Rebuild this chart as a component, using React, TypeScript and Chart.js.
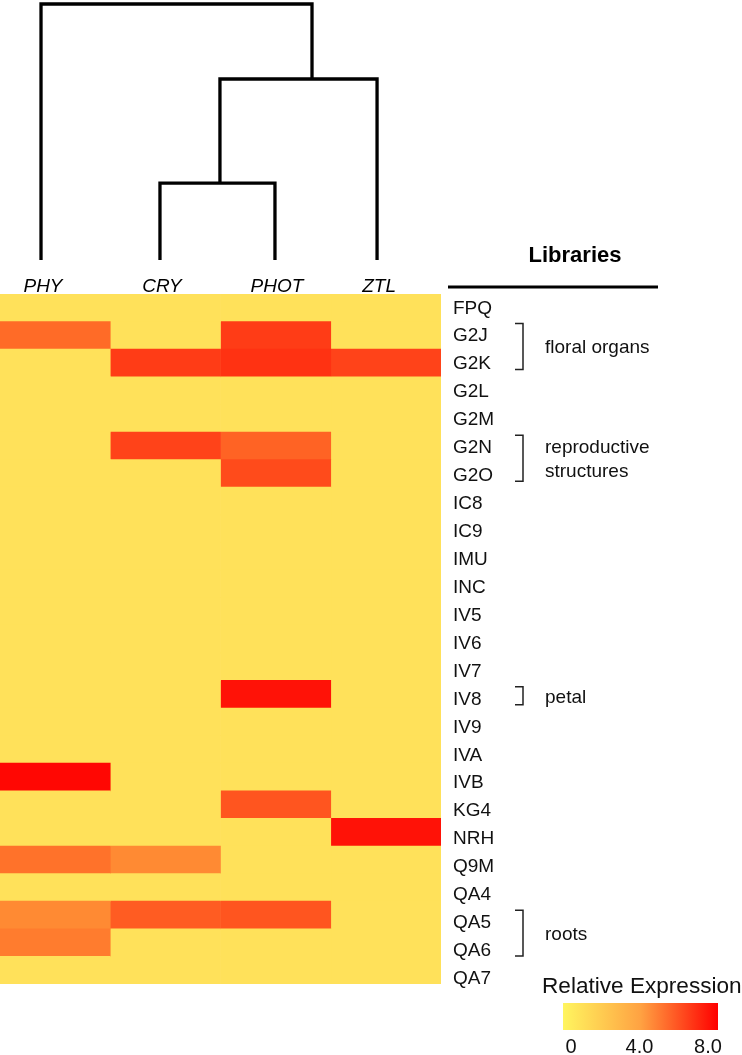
import { useEffect, useRef } from 'react';
import { Chart, registerables } from 'chart.js';

Chart.register(...registerables);

// ---------- data ----------
const rowLabels = ['FPQ', 'G2J', 'G2K', 'G2L', 'G2M', 'G2N', 'G2O', 'IC8', 'IC9', 'IMU', 'INC', 'IV5', 'IV6', 'IV7', 'IV8', 'IV9', 'IVA', 'IVB', 'KG4', 'NRH', 'Q9M', 'QA4', 'QA5', 'QA6', 'QA7'];
const columnLabels = ['PHY', 'CRY', 'PHOT', 'ZTL'];

const phyValues = [0, 5.0, 0, 0, 0, 0, 0, 0, 0, 0, 0, 0, 0, 0, 0, 0, 0, 7.8, 0, 0, 4.8, 0, 4.1, 4.5, 0];
const cryValues = [0, 0, 6.3, 0, 0, 6.1, 0, 0, 0, 0, 0, 0, 0, 0, 0, 0, 0, 0, 0, 0, 4.1, 0, 5.4, 0, 0];
const photValues = [0, 6.3, 6.6, 0, 0, 5.2, 5.9, 0, 0, 0, 0, 0, 0, 0, 7.5, 0, 0, 0, 5.6, 0, 0, 0, 5.6, 0, 0];
const ztlValues = [0, 0, 6.1, 0, 0, 0, 0, 0, 0, 0, 0, 0, 0, 0, 0, 0, 0, 0, 0, 7.5, 0, 0, 0, 0, 0];

// dendrogram (positions in column units, heights as relative distance)
const leafPositions = [0.372, 1.451, 2.494, 3.42];
const mergeLeft = ['CRY', 'm0', 'PHY'];
const mergeRight = ['PHOT', 'ZTL', 'm1'];
const mergeHeights = [0.3, 0.707, 1.0];
const mergePositions = [1.995, 2.83, 1.6];

// groups
const groupNames = [['floral organs'], ['reproductive', 'structures'], ['petal'], ['roots']];
const groupFirstRow = ['G2J', 'G2N', 'IV8', 'QA5'];
const groupLastRow = ['G2K', 'G2O', 'IV8', 'QA6'];

// colour legend
const legendTitle = 'Relative Expression';
const legendTicks = [0, 4, 8];
const legendTickLabels = ['0', '4.0', '8.0'];
const legendMax = 8;

const cellStopValues = [0, 4, 8];
const cellStopColors = [[255, 225, 90], [255, 142, 52], [255, 0, 0]];
const legendStopColors = ['rgb(255,245,95)', 'rgb(255,162,66)', 'rgb(255,0,0)'];

const FONT = '"Liberation Sans", Arial, Helvetica, sans-serif';

function colorFor(v: number): string {
  let i = 0;
  while (i < cellStopValues.length - 2 && v > cellStopValues[i + 1]) i++;
  const a = cellStopValues[i];
  const b = cellStopValues[i + 1];
  const t = Math.max(0, Math.min(1, (v - a) / (b - a)));
  const c0 = cellStopColors[i];
  const c1 = cellStopColors[i + 1];
  const c = c0.map((x, k) => Math.round(x + (c1[k] - x) * t));
  return `rgb(${c[0]},${c[1]},${c[2]})`;
}

const allValues = [phyValues, cryValues, photValues, ztlValues];

const decorPlugin = {
  id: 'decor',
  afterDraw(chart: any) {
    const ctx: CanvasRenderingContext2D = chart.ctx;
    const xs = chart.scales.x;
    const ys = chart.scales.y;
    const area = chart.chartArea;
    ctx.save();

    // ----- dendrogram -----
    const leafY = area.top - 34;
    const rootY = 4;
    const hToY = (h: number) => leafY - h * (leafY - rootY);
    const nodes: Record<string, { x: number; y: number }> = {};
    columnLabels.forEach((name, i) => {
      nodes[name] = { x: xs.getPixelForValue(leafPositions[i]), y: leafY };
    });
    ctx.strokeStyle = '#000';
    ctx.lineWidth = 3.3;
    ctx.lineJoin = 'miter';
    ctx.lineCap = 'butt';
    mergeLeft.forEach((l, i) => {
      const L = nodes[l];
      const R = nodes[mergeRight[i]];
      const y = hToY(mergeHeights[i]);
      ctx.beginPath();
      ctx.moveTo(L.x, L.y);
      ctx.lineTo(L.x, y);
      ctx.lineTo(R.x, y);
      ctx.lineTo(R.x, R.y);
      ctx.stroke();
      nodes['m' + i] = { x: xs.getPixelForValue(mergePositions[i]), y };
    });

    // ----- column labels -----
    ctx.fillStyle = '#000';
    ctx.font = `italic 19px ${FONT}`;
    ctx.textAlign = 'center';
    ctx.textBaseline = 'alphabetic';
    columnLabels.forEach((name, i) => {
      ctx.fillText(name, xs.getPixelForValue(leafPositions[i]) + 2, area.top - 2);
    });

    // ----- Libraries header -----
    ctx.font = `bold 22px ${FONT}`;
    ctx.fillText('Libraries', 575, area.top - 32);
    ctx.lineWidth = 3;
    ctx.beginPath();
    ctx.moveTo(448, area.top - 7);
    ctx.lineTo(658, area.top - 7);
    ctx.stroke();

    // ----- row labels -----
    const baseline = (i: number) => ys.getPixelForValue(i) + 5.7 + i * 0.34;
    ctx.font = `19px ${FONT}`;
    ctx.textAlign = 'left';
    ctx.fillStyle = '#111';
    rowLabels.forEach((lab, i) => {
      ctx.fillText(lab, area.right + 12, baseline(i));
    });

    // ----- group brackets -----
    ctx.strokeStyle = '#222';
    ctx.lineWidth = 1.5;
    groupNames.forEach((lines, g) => {
      const i0 = rowLabels.indexOf(groupFirstRow[g]);
      const i1 = rowLabels.indexOf(groupLastRow[g]);
      const top = baseline(i0) - 18;
      const bot = baseline(i1);
      const bx = area.right + 82;
      ctx.beginPath();
      ctx.moveTo(bx - 8, top);
      ctx.lineTo(bx, top);
      ctx.lineTo(bx, bot);
      ctx.lineTo(bx - 8, bot);
      ctx.stroke();
      const mid = (top + bot) / 2;
      const startY = mid + 7 - (lines.length - 1) * 12;
      ctx.fillStyle = '#111';
      lines.forEach((t, k) => {
        ctx.fillText(t, area.right + 104, startY + k * 24);
      });
    });

    // ----- colour legend -----
    const lx0 = 563;
    const lx1 = 718;
    const ly0 = 1003;
    const ly1 = 1030;
    const grad = ctx.createLinearGradient(lx0, 0, lx1, 0);
    legendStopColors.forEach((c, k) => grad.addColorStop(k / (legendStopColors.length - 1), c));
    ctx.fillStyle = grad;
    ctx.fillRect(lx0, ly0, lx1 - lx0, ly1 - ly0);
    ctx.fillStyle = '#111';
    ctx.font = `22.6px ${FONT}`;
    ctx.textAlign = 'left';
    ctx.fillText(legendTitle, 542, 993);
    ctx.font = `20px ${FONT}`;
    ctx.textAlign = 'center';
    const tx0 = 571;
    const tx1 = 708;
    legendTicks.forEach((v, k) => {
      ctx.fillText(legendTickLabels[k], tx0 + (v / legendMax) * (tx1 - tx0), 1053);
    });

    ctx.restore();
  },
};

export default function App() {
  const canvasRef = useRef<HTMLCanvasElement | null>(null);

  useEffect(() => {
    if (!canvasRef.current) return;
    const datasets = allValues.map((vals, c) => ({
      label: columnLabels[c],
      data: rowLabels.map(() => [c, c + 1]),
      backgroundColor: vals.map(colorFor),
      borderWidth: 0,
      barPercentage: 1,
      categoryPercentage: 1,
      grouped: false,
    }));
    const chart = new Chart(canvasRef.current, {
      type: 'bar',
      data: { labels: rowLabels, datasets: datasets as any },
      options: {
        indexAxis: 'y',
        animation: false,
        responsive: true,
        maintainAspectRatio: false,
        layout: { padding: { top: 294, bottom: 71, left: 0, right: 301 } },
        plugins: { legend: { display: false }, tooltip: { enabled: false } },
        scales: {
          x: { type: 'linear', min: 0, max: 4, display: false },
          y: { type: 'category', display: false, offset: true },
        },
      },
      plugins: [decorPlugin],
    });
    return () => chart.destroy();
  }, []);

  return (
    <div style={{ position: 'absolute', left: 0, top: 0, width: 742, height: 1055, background: '#fff' }}>
      <canvas ref={canvasRef} />
    </div>
  );
}
